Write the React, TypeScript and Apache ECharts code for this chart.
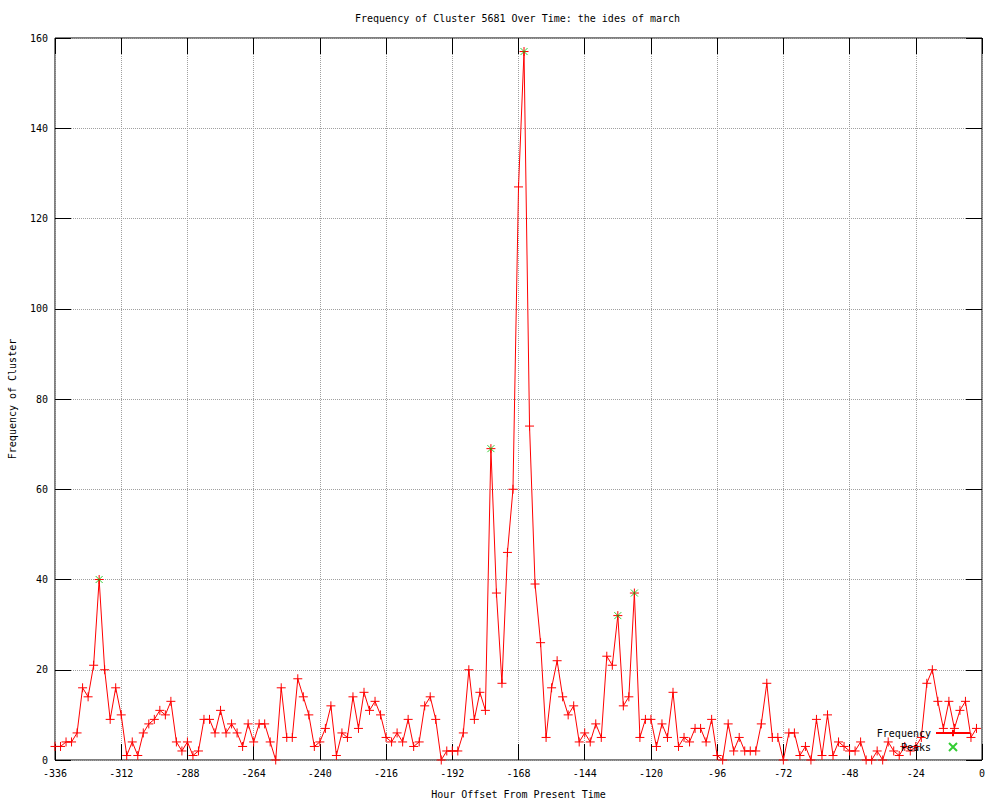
import React, { useEffect, useRef } from "react";
import * as echarts from "echarts";

const TITLE = "Frequency of Cluster 5681 Over Time: the ides of march";
const X_NAME = "Hour Offset From Present Time";
const Y_NAME = "Frequency of Cluster";

const HOUR_START = -336;
const HOUR_STEP = 2;

const frequencyValues = [
  3, 3, 4, 4, 6, 16, 14, 21, 40, 20, 9, 16, 10, 1, 4, 1, 6, 8, 9, 11,
  10, 13, 4, 2, 4, 1, 2, 9, 9, 6, 11, 6, 8, 6, 3, 8, 4, 8, 8, 4,
  0, 16, 5, 5, 18, 14, 10, 3, 4, 7, 12, 1, 6, 5, 14, 7, 15, 11, 13, 10,
  5, 4, 6, 4, 9, 3, 4, 12, 14, 9, 0, 2, 2, 2, 6, 20, 9, 15, 11, 69,
  37, 17, 46, 60, 127, 157, 74, 39, 26, 5, 16, 22, 14, 10, 12, 4, 6, 4, 8, 5,
  23, 21, 32, 12, 14, 37, 5, 9, 9, 3, 8, 5, 15, 3, 5, 4, 7, 7, 4, 9,
  1, 0, 8, 2, 5, 2, 2, 2, 8, 17, 5, 5, 0, 6, 6, 1, 3, 0, 9, 1,
  10, 1, 4, 3, 2, 2, 4, 0, 0, 2, 0, 4, 2, 1, 3, 2, 3, 5, 17, 20,
  13, 7, 13, 7, 11, 13, 5, 7,
];

const peakHours = [-320, -178, -166, -132, -126];
const peakValues = [40, 69, 157, 32, 37];

const X_MIN = -336;
const X_MAX = 0;
const X_INTERVAL = 24;
const Y_MIN = 0;
const Y_MAX = 160;
const Y_INTERVAL = 20;

const GRID_LEFT = 55;
const GRID_RIGHT = 18;
const GRID_TOP = 38;
const GRID_BOTTOM = 40;
const CHART_W = 1000;
const CHART_H = 800;
const PLOT_W = CHART_W - GRID_LEFT - GRID_RIGHT;
const PLOT_H = CHART_H - GRID_TOP - GRID_BOTTOM;

const FONT = "DejaVu Sans Mono";
const PLUS = "path://M0,5L10,5M5,0L5,10";
const CROSS = "path://M0,0L10,10M10,0L0,10";

const label = () => ({ color: "#000", fontFamily: FONT, fontSize: 10 });
const split = () => ({ show: true, lineStyle: { color: "#a0a0a0", type: "dotted", width: 1 } });
const tick = (inside: boolean) => ({ show: true, inside, length: 16, lineStyle: { color: "#000", width: 1 } });

const xTickAxis = (offset: number, inside: boolean) => ({
  type: "value",
  min: X_MIN,
  max: X_MAX,
  interval: X_INTERVAL,
  position: "top",
  offset,
  axisLine: { show: false, onZero: false },
  axisTick: tick(inside),
  axisLabel: { show: false },
  splitLine: { show: false },
});
const yTickAxis = (offset: number, inside: boolean) => ({
  type: "value",
  min: Y_MIN,
  max: Y_MAX,
  interval: Y_INTERVAL,
  position: "right",
  offset,
  axisLine: { show: false, onZero: false },
  axisTick: tick(inside),
  axisLabel: { show: false },
  splitLine: { show: false },
});

export default function App() {
  const ref = useRef<HTMLDivElement>(null);

  useEffect(() => {
    if (!ref.current) return;
    const chart = echarts.init(ref.current, undefined, { renderer: "svg" });

    const freqData = frequencyValues.map((v, i) => [HOUR_START + i * HOUR_STEP, v]);
    const peakData = peakHours.map((h, i) => [h, peakValues[i]]);

    chart.setOption({
      animation: false,
      backgroundColor: "#fff",
      title: {
        text: TITLE,
        left: 350,
        top: 8,
        textStyle: { fontFamily: FONT, fontSize: 10, fontWeight: "normal", color: "#000" },
      },
      grid: {
        left: GRID_LEFT,
        right: GRID_RIGHT,
        top: GRID_TOP,
        bottom: GRID_BOTTOM,
        containLabel: false,
        outerBoundsMode: "none",
        show: true,
        borderColor: "#000",
        borderWidth: 1,
        backgroundColor: "transparent",
      },
      legend: {
        orient: "vertical",
        align: "right",
        right: 24,
        top: 723,
        itemWidth: 34,
        itemHeight: 8,
        itemGap: 4,
        textStyle: { fontFamily: FONT, fontSize: 10, color: "#000" },
        data: ["Frequency", "Peaks"],
      },
      xAxis: [
        {
          type: "value",
          min: X_MIN,
          max: X_MAX,
          interval: X_INTERVAL,
          position: "bottom",
          name: X_NAME,
          nameLocation: "middle",
          nameGap: 29,
          nameTextStyle: label(),
          axisLine: { show: false, onZero: false },
          axisTick: { show: false },
          axisLabel: { ...label(), margin: 8 },
          splitLine: split(),
        },
        xTickAxis(0, true),
        xTickAxis(-PLOT_H, false),
      ],
      yAxis: [
        {
          type: "value",
          min: Y_MIN,
          max: Y_MAX,
          interval: Y_INTERVAL,
          position: "left",
          name: Y_NAME,
          nameLocation: "middle",
          nameGap: 38,
          nameTextStyle: label(),
          axisLine: { show: false, onZero: false },
          axisTick: { show: false },
          axisLabel: { ...label(), margin: 7 },
          splitLine: split(),
        },
        yTickAxis(0, true),
        yTickAxis(-PLOT_W, false),
      ],
      series: [
        {
          name: "Frequency",
          type: "line",
          data: freqData,
          xAxisIndex: 0,
          yAxisIndex: 0,
          symbol: PLUS,
          symbolSize: 9,
          showSymbol: true,
          showAllSymbol: true,
          lineStyle: { color: "#ff0000", width: 1 },
          itemStyle: { color: "#ff0000", borderColor: "#ff0000", borderWidth: 1 },
          emphasis: { disabled: true },
          z: 2,
        },
        {
          name: "Peaks",
          type: "scatter",
          data: peakData,
          xAxisIndex: 0,
          yAxisIndex: 0,
          symbol: CROSS,
          symbolSize: 7,
          itemStyle: { color: "#00c000", borderColor: "#00c000", borderWidth: 1 },
          emphasis: { disabled: true },
          z: 3,
        },
      ],
    });

    return () => chart.dispose();
  }, []);

  return (
    <div
      ref={ref}
      style={{ position: "fixed", left: 0, top: 0, width: CHART_W, height: CHART_H, background: "#fff" }}
    />
  );
}
